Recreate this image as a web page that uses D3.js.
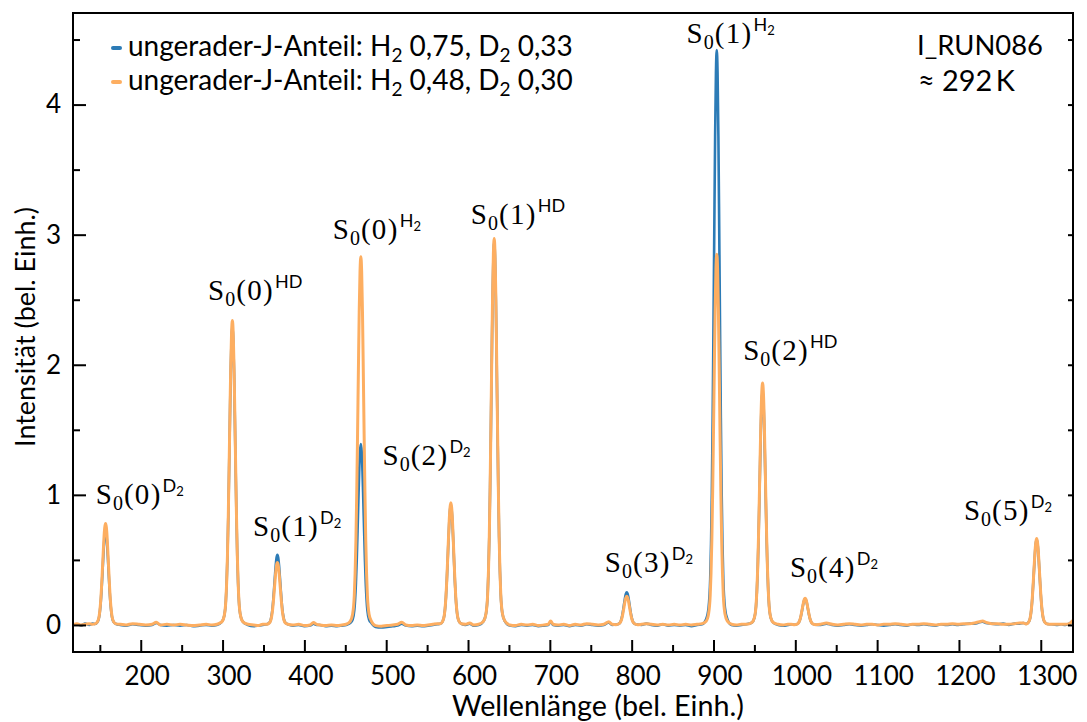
<!DOCTYPE html>
<html><head><meta charset="utf-8">
<script src="https://cdn.jsdelivr.net/npm/d3@7"></script>
<style>body{margin:0;background:#fff} svg{display:block}</style>
</head><body>
<svg id="chart" width="1087" height="722"></svg>
<script>
// ---------------- DATA ----------------
const wavelength = [
117,122,127,132,137,141,
144,147,149,150,151,152,153,154,155,156,157,158,159,160,161,162,163,164,165,167,170,
175,182,190,198,206,214,219,224,232,240,248,256,264,272,280,287,293,
299,302,304,305,306,307,308,309,310,311,312,313,314,315,316,317,318,319,320,322,325,
331,338,344,349,
354,357,359,360,361,362,363,364,365,366,367,368,369,370,371,372,373,374,375,377,380,
386,393,400,407,411,415,419,426,433,440,446,451,
456,459,461,462,463,464,465,466,467,468,469,470,471,472,473,474,475,476,477,479,482,
487,494,501,508,514,519,524,531,538,545,551,557,562,
566,569,571,572,573,574,575,576,577,578,579,580,581,582,583,584,585,586,587,589,592,
597,602,607,613,
619,622,624,625,626,627,628,629,630,631,632,633,634,635,636,637,638,639,640,642,645,
651,658,665,672,679,686,693,698,701,704,710,717,724,731,738,745,752,759,766,772,776,
781,784,786,787,788,789,790,791,792,793,794,795,796,797,798,799,800,801,802,804,807,
812,818,824,831,838,845,852,859,866,873,880,886,
891,894,896,897,898,899,900,901,902,903,904,905,906,907,908,909,910,911,912,914,917,
922,928,934,940,
947,950,952,953,954,955,956,957,958,959,960,961,962,963,964,965,966,967,968,970,973,
979,985,991,995,
999,1002,1004,1005,1006,1007,1008,1009,1010,1011,1012,1013,1014,1015,1016,1017,1018,1019,1020,1022,1025,
1031,1038,1045,1052,1059,1066,1073,1080,1087,1094,1101,1108,1115,1122,1129,1136,1143,1150,1157,1164,1171,1178,1185,1192,1199,1206,1213,1219,1225,1229,1233,1240,1247,1254,1261,1268,1274,1279,
1282,1285,1287,1288,1289,1290,1291,1292,1293,1294,1295,1296,1297,1298,1299,1300,1301,1302,1303,1305,1308,
1313,1319,1325,1330,1335,1339
];

// ungerader-J-Anteil: H2 0,75, D2 0,33
const intensityA = [
0,.005,-.005,.01,0,.01,
.007,.022,.058,.101,.166,.259,.374,.497,.612,.691,.72,.691,.612,.497,.374,.259,.166,.101,.058,.022,.007,
0,-.005,.005,0,-.005,0,.015,0,-.005,0,-.005,0,-.01,-.005,0,-.005,0,
.023,.069,.184,.322,.529,.828,1.196,1.587,1.955,2.208,2.30,2.208,1.955,1.587,1.196,.828,.529,.322,.184,.069,.023,
0,-.01,-.005,0,
.005,.016,.043,.076,.124,.194,.281,.373,.459,.518,.54,.518,.459,.373,.281,.194,.124,.076,.043,.016,.005,
-.005,0,-.01,-.005,.01,0,0,-.01,-.005,-.01,-.005,0,
.014,.042,.111,.195,.320,.500,.723,.959,1.182,1.334,1.39,1.334,1.182,.959,.723,.500,.320,.195,.111,.042,.014,
-.015,-.02,-.015,-.01,-.005,.01,-.005,-.01,-.005,-.01,-.005,0,.005,
.009,.028,.074,.129,.212,.331,.478,.635,.782,.883,.92,.883,.782,.635,.478,.331,.212,.129,.074,.028,.009,
0,.01,-.005,0,
.029,.088,.235,.412,.676,1.058,1.529,2.029,2.499,2.822,2.94,2.822,2.499,2.029,1.529,1.058,.676,.412,.235,.088,.029,
-.005,-.01,0,-.005,0,-.01,-.005,0,.025,0,-.005,0,-.01,0,-.005,.005,0,-.005,0,.02,0,
.003,.008,.020,.035,.058,.090,.130,.173,.213,.240,.25,.240,.213,.173,.130,.090,.058,.035,.020,.008,.003,
0,.01,0,-.005,.005,-.005,0,-.005,0,-.01,0,.005,
.044,.133,.354,.619,1.017,1.591,2.298,3.050,3.757,4.243,4.42,4.243,3.757,3.050,2.298,1.591,1.017,.619,.354,.133,.044,
0,-.005,0,.005,
.018,.054,.144,.252,.414,.648,.936,1.242,1.530,1.728,1.80,1.728,1.530,1.242,.936,.648,.414,.252,.144,.054,.018,
0,-.005,0,.005,
.002,.006,.016,.028,.046,.072,.104,.138,.170,.192,.20,.192,.170,.138,.104,.072,.046,.028,.016,.006,.002,
0,.01,0,-.005,0,.005,0,-.005,0,.005,0,-.005,0,.005,0,-.005,.005,0,.005,0,-.005,.005,0,.005,0,.005,.01,.01,.02,.025,.015,.01,.005,.01,0,.01,.01,.015,
.007,.020,.052,.092,.151,.236,.341,.452,.557,.629,.655,.629,.557,.452,.341,.236,.151,.092,.052,.020,.007,
.005,0,.005,0,.01,.03
];

// ungerader-J-Anteil: H2 0,48, D2 0,30
const intensityB = [
0,.01,0,.005,.01,.005,
.008,.023,.062,.109,.179,.281,.406,.538,.663,.749,.78,.749,.663,.538,.406,.281,.179,.109,.062,.023,.008,
.005,0,.01,.005,0,.005,.02,0,.005,0,.005,0,-.005,0,.005,0,.005,
.023,.070,.187,.328,.538,.842,1.217,1.615,1.989,2.246,2.34,2.246,1.989,1.615,1.217,.842,.538,.328,.187,.070,.023,
.005,0,-.005,.005,
.005,.014,.038,.067,.110,.173,.250,.331,.408,.461,.48,.461,.408,.331,.250,.173,.110,.067,.038,.014,.005,
0,.005,-.005,0,.018,.005,0,-.005,0,-.005,0,.005,
.028,.085,.226,.396,.651,1.019,1.472,1.953,2.406,2.717,2.83,2.717,2.406,1.953,1.472,1.019,.651,.396,.226,.085,.028,
-.005,-.01,-.005,0,.005,.02,0,-.005,0,-.005,0,.005,.01,
.009,.028,.075,.132,.216,.338,.489,.649,.799,.902,.94,.902,.799,.649,.489,.338,.216,.132,.075,.028,.009,
.005,.015,0,.005,
.030,.089,.238,.416,.683,1.069,1.544,2.049,2.525,2.851,2.97,2.851,2.525,2.049,1.544,1.069,.683,.416,.238,.089,.030,
0,-.005,.005,0,.005,-.005,0,.005,.03,.005,0,.005,-.005,.005,0,.01,.005,0,.005,.025,.005,
.002,.007,.018,.031,.051,.079,.114,.152,.187,.211,.22,.211,.187,.152,.114,.079,.051,.031,.018,.007,.002,
.005,.01,.005,0,.005,0,.005,0,.005,0,.005,.01,
.029,.086,.228,.399,.656,1.026,1.482,1.967,2.423,2.736,2.85,2.736,2.423,1.967,1.482,1.026,.656,.399,.228,.086,.029,
.005,0,.005,.005,
.019,.056,.149,.260,.428,.670,.967,1.283,1.581,1.786,1.86,1.786,1.581,1.283,.967,.670,.428,.260,.149,.056,.019,
.005,0,.005,.005,
.002,.006,.016,.029,.047,.074,.107,.141,.174,.197,.205,.197,.174,.141,.107,.074,.047,.029,.016,.006,.002,
.005,.015,.005,0,.005,.01,.005,0,.005,.005,0,.005,.005,.01,.005,0,.005,.005,.01,.005,0,.005,.005,.01,.005,.01,.01,.015,.025,.03,.02,.01,.01,.005,.005,.01,.015,.015,
.007,.020,.053,.093,.153,.239,.346,.459,.565,.638,.665,.638,.565,.459,.346,.239,.153,.093,.053,.020,.007,
.005,.005,.005,.005,.01,.035
];

const xTicks = [200,300,400,500,600,700,800,900,1000,1100,1200,1300];
const xMinorTicks = [150,250,350,450,550,650,750,850,950,1050,1150,1250];
const yTicks = [0,1,2,3,4];
const yMinorTicks = [0.5,1.5,2.5,3.5,4.5];
const rightTicks = [0,0.5,1,1.5,2,2.5,3,3.5,4,4.5];

const legendSeries = [
  {parts:["ungerader-J-Anteil: H","2"," 0,75, D","2"," 0,33"]},
  {parts:["ungerader-J-Anteil: H","2"," 0,48, D","2"," 0,30"]}
];
const runLabel = "I_RUN086";
const tempLabel = "\u2248 292\u2009K";
const xTitle = "Wellenlänge (bel. Einh.)";
const yTitle = "Intensität (bel. Einh.)";

// peak annotations: rotational quantum number and species, anchored in data coordinates
const peakJ       = ["0","0","1","0","2","1","3","1","2","4","5"];
const peakSpecies = ["D2","HD","D2","H2","D2","HD","D2","H2","HD","D2","D2"];
const peakLabelX  = [145.0,282.3,337.3,434.7,495.5,603.4,767.2,867.1,936.3,993.4,1206.1];
const peakLabelY  = [0.93,2.50,0.68,2.97,1.227,3.085,0.407,4.473,2.034,0.368,0.804];

// ---------------- CHART ----------------
const svg = d3.select("#chart");
const L = 73, R = 1073, T = 13, B = 652;
const x = d3.scaleLinear().domain([117.2, 1339.4]).range([L, R]);
const y = d3.scaleLinear().domain([-0.208, 4.704]).range([B, T]);
const colorA = "#2c7bb6", colorB = "#fdae61";
const sans = "Lato, 'Noto Sans', sans-serif";
const serif = "'Liberation Serif', 'DejaVu Serif', serif";

if (wavelength.length !== intensityA.length || wavelength.length !== intensityB.length) {
  console.error("length mismatch", wavelength.length, intensityA.length, intensityB.length);
}

svg.append("defs").append("clipPath").attr("id","clip")
  .append("rect").attr("x",L).attr("y",T).attr("width",R-L).attr("height",B-T);

const line = d3.line().x(i => x(wavelength[i])).curve(d3.curveMonotoneX);
const idx = d3.range(wavelength.length);

const plot = svg.append("g").attr("clip-path","url(#clip)");
plot.append("path").datum(idx)
  .attr("d", line.y(i => y(intensityA[i])))
  .attr("fill","none").attr("stroke",colorA).attr("stroke-width",2.6).attr("stroke-linejoin","round");
plot.append("path").datum(idx)
  .attr("d", line.y(i => y(intensityB[i])))
  .attr("fill","none").attr("stroke",colorB).attr("stroke-width",3).attr("stroke-linejoin","round");

// axes
function styleAxis(g){
  g.select(".domain").remove();
  g.selectAll(".tick line").attr("stroke","#000").attr("stroke-width",2);
  g.selectAll(".tick text").attr("font-family",sans).attr("font-size",26).attr("fill","#000");
}
const gx = svg.append("g").attr("transform",`translate(0,${B})`)
  .call(d3.axisBottom(x).tickValues(xTicks).tickSizeInner(-12).tickSizeOuter(0).tickPadding(8).tickFormat(d3.format("d")));
styleAxis(gx);
gx.selectAll(".tick text").attr("dy","0.95em").attr("dx",6);
const gxm = svg.append("g").attr("transform",`translate(0,${B})`)
  .call(d3.axisBottom(x).tickValues(xMinorTicks).tickSizeInner(-7).tickSizeOuter(0).tickFormat(""));
styleAxis(gxm);

const gy = svg.append("g").attr("transform",`translate(${L},0)`)
  .call(d3.axisLeft(y).tickValues(yTicks).tickSizeInner(-13).tickSizeOuter(0).tickPadding(12).tickFormat(d3.format("d")));
styleAxis(gy);
const gym = svg.append("g").attr("transform",`translate(${L},0)`)
  .call(d3.axisLeft(y).tickValues(yMinorTicks).tickSizeInner(-7).tickSizeOuter(0).tickFormat(""));
styleAxis(gym);
const gr = svg.append("g").attr("transform",`translate(${R},0)`)
  .call(d3.axisRight(y).tickValues(rightTicks).tickSizeInner(-5).tickSizeOuter(0).tickFormat(""));
styleAxis(gr);

// frame
svg.append("rect").attr("x",L).attr("y",T).attr("width",R-L).attr("height",B-T)
  .attr("fill","none").attr("stroke","#000").attr("stroke-width",2);

function fitWidth(sel, w){
  const n = sel.node();
  const fs = parseFloat(sel.attr("font-size"));
  const cw = n.getComputedTextLength();
  if (cw > 0) sel.attr("font-size", fs * w / cw);
}

// axis titles
const xt = svg.append("text").attr("x",598).attr("y",716).attr("text-anchor","middle")
  .attr("font-family",sans).attr("font-size",25).text(xTitle);
fitWidth(xt, 292);
const yt = svg.append("text").attr("transform","translate(35,327) rotate(-90)").attr("text-anchor","middle")
  .attr("font-family",sans).attr("font-size",25).text(yTitle);
fitWidth(yt, 240);

// legend
const legY = [56, 90];
legendSeries.forEach((s, k) => {
  svg.append("line").attr("x1",113).attr("x2",120).attr("y1",legY[k]-8).attr("y2",legY[k]-8)
    .attr("stroke", k===0?colorA:colorB).attr("stroke-width",4).attr("stroke-linecap","round");
  const t = svg.append("text").attr("x",128).attr("y",legY[k]).attr("font-family",sans).attr("font-size",21);
  s.parts.forEach((p, j) => {
    const isSub = j % 2 === 1;
    t.append("tspan").attr("font-size", isSub ? "68%" : null)
      .attr("dy", isSub ? "0.3em" : (j>0 ? "-0.2em" : null)).text(p);
  });
  fitWidth(t, 445);
});

// run info
const rl = svg.append("text").attr("x",917).attr("y",55).attr("font-family",sans).attr("font-size",25).text(runLabel);
fitWidth(rl, 126);
const tl = svg.append("text").attr("x",918).attr("y",91).attr("font-family",sans).attr("font-size",25).text(tempLabel);
fitWidth(tl, 97);

// peak labels
peakJ.forEach((j, k) => {
  const t = svg.append("text").attr("x", x(peakLabelX[k])).attr("y", y(peakLabelY[k])).attr("fill","#000");
  t.append("tspan").attr("font-family",serif).attr("font-size",29).attr("letter-spacing",1).text("S");
  t.append("tspan").attr("font-family",serif).attr("font-size",20).attr("dy",6).attr("letter-spacing",1).text("0");
  t.append("tspan").attr("font-family",serif).attr("font-size",29).attr("dy",-6).attr("letter-spacing",1.3).text("(" + j + ")");
  const sp = peakSpecies[k];
  if (sp === "HD") {
    t.append("tspan").attr("font-family",sans).attr("font-size",18).attr("dy",-12).attr("dx",1).text("HD");
  } else {
    t.append("tspan").attr("font-family",sans).attr("font-size",18).attr("dy",-12).attr("dx",1).text(sp[0]);
    t.append("tspan").attr("font-family",sans).attr("font-size",13).attr("dy",4).text(sp[1]);
  }
});
</script>
</body></html>
